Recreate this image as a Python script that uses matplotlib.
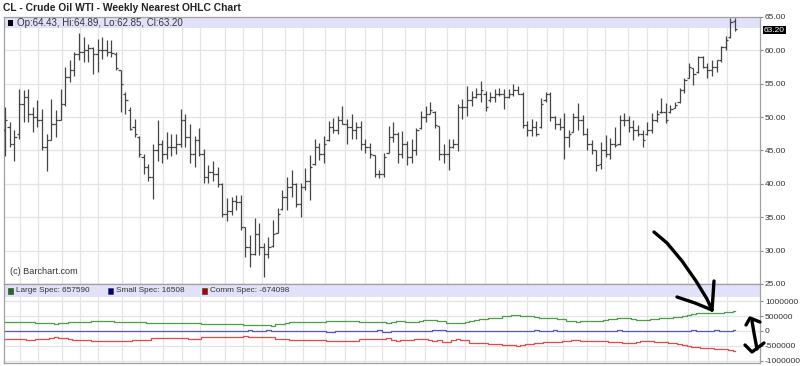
import numpy as np
import matplotlib
matplotlib.use('Agg')
import matplotlib.pyplot as plt
from matplotlib.patches import Rectangle
from matplotlib.lines import Line2D

plt.rcParams['font.family'] = ['Liberation Sans', 'DejaVu Sans']

# weekly OHLC
highs = [51.5, 49.2, 48.0, 54.2, 54.0, 54.2, 51.5, 52.5, 51.2, 47.5,
         52.7, 51.0, 54.2, 57.5, 58.5, 59.7, 62.6, 62.0, 61.0, 60.5,
         61.7, 62.0, 61.5, 61.5, 59.7, 57.0, 53.7, 51.5, 49.7, 47.2,
         44.5, 43.0, 46.0, 49.5, 46.5, 47.7, 47.5, 47.5, 51.2, 50.5,
         48.9, 47.2, 48.4, 45.2, 42.9, 43.4, 42.6, 40.1, 37.9, 38.1,
         38.4, 38.4, 33.6, 32.4, 34.9, 34.1, 31.1, 32.1, 34.6, 36.4,
         39.1, 41.1, 42.1, 40.1, 40.1, 42.4, 44.4, 46.7, 46.1, 47.2,
         49.4, 49.9, 50.2, 51.7, 49.7, 50.4, 49.2, 49.4, 46.7, 46.1,
         44.4, 42.1, 44.6, 48.7, 49.2, 47.7, 47.9, 46.4, 46.7, 48.4,
         50.9, 51.7, 52.2, 50.9, 48.7, 45.9, 46.7, 46.7, 51.9, 52.7,
         54.7, 53.9, 54.4, 55.4, 53.9, 53.7, 54.2, 54.4, 54.2, 54.2,
         54.9, 54.7, 53.7, 49.4, 49.7, 49.4, 52.9, 53.7, 53.7, 50.2,
         49.8, 50.6, 48.1, 50.6, 52.1, 50.3, 48.3, 46.5, 45.0, 46.3,
         47.3, 46.8, 48.5, 50.3, 50.6, 50.1, 49.6, 48.8, 48.1, 49.3,
         50.6, 51.1, 52.8, 52.1, 51.8, 52.3, 54.3, 55.8, 58.1, 57.3,
         59.1, 59.1, 58.1, 58.6, 58.6, 60.6, 62.1, 64.8, 64.89]
lows = [44.2, 45.5, 43.5, 46.7, 49.2, 49.2, 47.7, 48.5, 45.0, 42.0,
        46.5, 47.0, 49.5, 51.7, 55.2, 56.2, 58.5, 58.2, 58.2, 56.5,
        56.7, 58.7, 59.2, 59.0, 57.0, 50.7, 50.5, 48.0, 47.0, 44.0,
        41.5, 40.5, 37.7, 43.5, 43.2, 43.7, 44.2, 44.5, 45.5, 45.5,
        43.1, 42.6, 44.2, 40.1, 40.1, 40.4, 39.6, 35.1, 34.4, 35.4,
        36.1, 33.1, 29.1, 27.6, 29.4, 29.4, 26.1, 28.9, 30.6, 32.6,
        36.1, 36.1, 38.1, 36.6, 35.1, 39.1, 37.6, 42.9, 43.6, 43.1,
        46.4, 47.6, 47.4, 48.9, 45.9, 46.7, 46.7, 45.1, 44.7, 43.9,
        41.1, 40.9, 41.1, 44.6, 46.2, 43.1, 43.9, 42.9, 43.1, 44.4,
        48.2, 49.2, 50.4, 48.4, 43.6, 43.1, 42.1, 45.4, 44.9, 49.7,
        50.2, 51.7, 52.9, 52.2, 50.9, 52.2, 52.2, 53.2, 51.2, 52.9,
        53.2, 53.4, 48.4, 47.2, 47.2, 47.2, 48.4, 52.2, 49.4, 48.2,
        48.1, 43.8, 45.5, 47.8, 48.1, 47.3, 45.0, 44.5, 42.0, 42.3,
        44.0, 43.8, 45.5, 45.8, 48.6, 47.8, 46.6, 47.1, 45.5, 47.3,
        47.6, 49.3, 50.6, 49.1, 50.6, 51.3, 52.1, 53.6, 55.8, 54.8,
        56.6, 57.3, 55.8, 56.1, 56.8, 58.3, 60.1, 61.8, 62.85]
opens = [48.0, 48.5, 46.0, 47.5, 52.0, 53.0, 50.5, 50.0, 49.5, 45.5,
         46.5, 49.0, 49.5, 52.0, 56.0, 57.0, 59.5, 59.8, 60.0, 60.3,
         59.5, 60.0, 60.0, 59.8, 59.5, 57.0, 53.5, 51.0, 48.5, 47.0,
         44.0, 42.5, 41.0, 45.0, 46.0, 44.5, 45.5, 45.5, 46.0, 49.5,
         47.0, 44.5, 46.5, 44.5, 41.0, 41.8, 41.5, 40.0, 35.5, 36.0,
         37.5, 37.3, 33.5, 30.5, 29.5, 32.5, 30.5, 29.5, 30.7, 32.7,
         36.2, 38.0, 39.5, 40.0, 37.0, 39.5, 40.5, 43.0, 45.5, 44.5,
         46.5, 48.5, 48.0, 49.5, 49.0, 48.5, 48.0, 48.5, 46.0, 45.5,
         44.3, 41.5, 41.5, 44.7, 47.0, 47.5, 44.5, 46.0, 44.0, 45.0,
         48.3, 50.0, 50.5, 50.8, 48.7, 44.5, 44.5, 45.5, 46.0, 51.5,
         51.5, 52.5, 53.0, 53.5, 53.5, 52.5, 53.0, 53.5, 53.5, 53.0,
         53.5, 54.0, 53.5, 48.8, 48.0, 48.5, 48.5, 52.5, 53.5, 50.0,
         49.0, 48.5, 47.0, 47.8, 50.0, 49.5, 47.5, 46.0, 45.0, 43.0,
         45.0, 44.5, 46.0, 46.0, 49.5, 49.5, 48.5, 48.0, 47.5, 47.4,
         48.0, 49.5, 50.7, 50.8, 50.7, 51.3, 52.2, 54.0, 55.9, 57.3,
         56.7, 59.0, 57.5, 57.0, 57.5, 58.5, 60.5, 62.0, 64.43]
closes = [49.5, 46.0, 47.0, 52.0, 53.0, 50.5, 50.0, 49.5, 45.5, 46.5,
          49.0, 49.5, 52.0, 56.0, 57.0, 59.5, 59.8, 60.0, 60.3, 59.5,
          60.0, 60.0, 59.8, 59.6, 57.3, 55.0, 52.5, 48.2, 47.5, 44.5,
          42.5, 41.0, 45.0, 46.0, 44.5, 45.5, 45.5, 46.0, 49.5, 47.0,
          44.5, 46.5, 44.5, 41.0, 41.8, 41.5, 40.0, 35.5, 36.0, 37.5,
          37.3, 33.5, 30.5, 29.5, 32.5, 30.5, 29.5, 30.5, 32.5, 35.5,
          38.0, 39.5, 40.0, 37.0, 39.5, 40.5, 42.5, 45.5, 44.5, 46.0,
          48.5, 48.0, 49.5, 49.0, 48.5, 48.0, 48.5, 46.0, 45.5, 44.5,
          41.5, 41.5, 44.0, 47.0, 47.5, 44.5, 46.0, 44.0, 45.0, 48.0,
          50.0, 50.5, 51.0, 48.8, 44.5, 44.5, 45.5, 46.0, 51.5, 51.5,
          52.5, 53.0, 53.5, 54.0, 51.5, 53.0, 53.5, 53.5, 53.0, 53.5,
          54.0, 53.5, 48.8, 48.0, 48.5, 47.5, 52.0, 53.5, 50.0, 49.0,
          48.5, 47.0, 47.5, 50.0, 49.5, 47.5, 46.0, 45.0, 42.8, 45.0,
          44.5, 46.0, 45.8, 49.5, 49.5, 48.5, 48.0, 47.5, 46.5, 48.0,
          49.5, 50.5, 50.8, 49.5, 51.2, 51.8, 54.0, 55.5, 57.5, 56.5,
          59.0, 57.5, 57.0, 57.5, 58.5, 60.5, 61.5, 64.3, 63.20]

# COT net positions (thousand contracts)
large_spec = [289, 289, 289, 289, 289, 300, 300, 278, 278, 278,
              256, 235, 256, 278, 300, 310, 310, 310, 310, 321,
              321, 321, 321, 321, 310, 300, 300, 300, 289, 289,
              289, 278, 256, 256, 256, 256, 256, 256, 256, 256,
              267, 267, 267, 245, 235, 235, 235, 235, 235, 235,
              235, 224, 213, 213, 213, 213, 213, 202, 180, 245,
              245, 267, 289, 300, 300, 300, 300, 310, 310, 310,
              321, 343, 332, 321, 321, 321, 321, 300, 289, 289,
              289, 289, 289, 267, 300, 321, 332, 300, 289, 289,
              332, 353, 353, 353, 321, 321, 278, 267, 267, 267,
              289, 332, 353, 386, 408, 419, 430, 440, 484, 495,
              528, 549, 517, 506, 495, 462, 440, 430, 430, 419,
              397, 386, 343, 321, 310, 321, 332, 332, 332, 343,
              375, 397, 408, 419, 430, 430, 408, 376, 365, 376,
              386, 397, 419, 430, 441, 452, 473, 517, 549, 582,
              593, 604, 615, 615, 604, 615, 626, 637, 657.59]
small_spec = [10, 10, 10, 10, 10, 10, 10, 10, 10, 10,
              10, 10, 10, 10, 10, 10, 10, 10, 10, 10,
              10, 10, 10, 10, 10, 10, 10, 10, 10, 10,
              10, 10, 10, 10, 10, 10, 10, 10, 10, 10,
              10, 10, 10, 10, 10, 10, 10, 10, 10, 10,
              10, 10, 10, 40, 10, 10, 10, 40, 10, 10,
              10, 10, 10, 10, 10, 10, 10, 10, 10, 10,
              -40, -40, 10, 10, 10, 10, 10, 10, 10, 10,
              10, 40, -40, -40, 10, 10, 10, 10, 10, 10,
              10, 10, 10, 40, 40, 40, 10, 10, 10, 10,
              10, 10, 10, 10, 10, 10, 10, 10, 10, 10,
              10, 10, 10, 10, 10, 40, 10, 10, 10, 40,
              10, 10, 10, 10, 10, 10, 10, 10, 10, 10,
              10, 10, 10, 40, 10, 10, 10, 10, 10, 10,
              10, 10, 10, 10, 10, 10, 10, 10, 10, 40,
              10, 10, 10, 10, 40, 10, 10, 10, 16.508]
comm_spec = [-278, -278, -278, -278, -278, -311, -311, -278, -278, -278,
             -245, -202, -245, -245, -278, -300, -300, -300, -300, -332,
             -332, -332, -332, -343, -343, -343, -343, -343, -300, -300,
             -300, -300, -245, -245, -245, -245, -245, -245, -245, -245,
             -256, -256, -256, -212, -212, -212, -212, -212, -212, -212,
             -212, -190, -180, -202, -202, -202, -202, -202, -191, -256,
             -256, -256, -311, -311, -311, -311, -311, -311, -311, -311,
             -343, -343, -332, -332, -332, -332, -332, -278, -278, -278,
             -278, -278, -278, -245, -300, -332, -311, -311, -300, -278,
             -278, -278, -300, -332, -300, -365, -365, -300, -278, -289,
             -311, -387, -387, -398, -398, -420, -420, -441, -452, -463,
             -484, -517, -473, -441, -430, -408, -387, -376, -365, -365,
             -354, -343, -332, -311, -311, -321, -332, -332, -332, -332,
             -343, -354, -365, -376, -387, -387, -387, -365, -343, -343,
             -343, -354, -365, -376, -387, -398, -430, -463, -495, -528,
             -549, -560, -582, -582, -593, -604, -615, -637, -674.098]

price_ticks = [25, 30, 35, 40, 45, 50, 55, 60, 65]
cot_ticks = [-1000000, -500000, 0, 500000, 1000000]
month_lines = [3.25, 7.14, 12.34, 16.23, 20.13, 25.32, 29.22, 34.2, 38.31, 42.21,
               47.62, 51.52, 55.63, 60.61, 64.5, 69.26, 73.59, 77.92, 81.6, 86.58,
               90.91, 95.67, 99.57, 103.9, 108.66, 112.99, 117.32, 120.78, 125.97,
               129.87, 134.85, 138.96, 143.29, 147.84, 152.16, 156.28]

W, H = 800, 366
fig = plt.figure(figsize=(W / 100, H / 100), dpi=100)

def fx(px):
    return px / W

def fy(py):
    return 1 - py / H

GRID = '#e4e4e4'
BAND = '#e1e1fa'
SPINE = '#a0a0a0'
BAR = '#454545'

ax = fig.add_axes([fx(4), fy(284), fx(760) - fx(4), fy(17) - fy(284)])
ax2 = fig.add_axes([fx(4), fy(363), fx(760) - fx(4), fy(284) - fy(363)])

n = len(highs)
idx = np.arange(n)
o = np.clip(opens, lows, highs)
c = np.clip(closes, lows, highs)

ax.vlines(idx, lows, highs, color=BAR, lw=0.9, zorder=3)
ax.hlines(o, idx - 0.5, idx, color=BAR, lw=0.9, zorder=3)
ax.hlines(c, idx, idx + 0.5, color=BAR, lw=0.9, zorder=3)

ax2.plot(idx, np.array(large_spec) * 1000, color='#49a049', lw=0.9, drawstyle='steps-mid', zorder=3)
ax2.plot(idx, np.array(small_spec) * 1000, color='#5555cc', lw=0.9, drawstyle='steps-mid', zorder=3)
ax2.plot(idx, np.array(comm_spec) * 1000, color='#e84848', lw=0.9, drawstyle='steps-mid', zorder=3)

for a in (ax, ax2):
    a.set_xlim(-0.25, 163.4)
    a.set_xticks([])
    for m in month_lines:
        a.axvline(m, color=GRID, lw=0.9, zorder=0)
    for s in a.spines.values():
        s.set_color(SPINE)
        s.set_linewidth(0.9)
    a.yaxis.tick_right()
    a.tick_params(axis='y', length=2, width=0.8, color='#888888', labelsize=6.0,
                  labelcolor='#333333', pad=1.5)

ax.set_ylim(25, 65)
ax.set_yticks(price_ticks)
ax.set_yticklabels(['%.2f' % v for v in price_ticks])
for v in price_ticks:
    ax.axhline(v, color=GRID, lw=0.9, zorder=0)

ax2.set_ylim(-1.07e6, 1.57e6)
ax2.set_yticks(cot_ticks)
ax2.set_yticklabels([str(v) for v in cot_ticks])
for v in cot_ticks:
    ax2.axhline(v, color=GRID, lw=0.9, zorder=0)

# lavender info bands
ax.add_patch(Rectangle((0, 1 - 11 / 267), 1, 11 / 267, transform=ax.transAxes,
                       facecolor=BAND, edgecolor='none', zorder=1))
ax2.add_patch(Rectangle((0, 1 - 13 / 79), 1, 12 / 79, transform=ax2.transAxes,
                        facecolor=BAND, edgecolor='none', zorder=1))

fig.text(fx(3), fy(8), 'CL - Crude Oil WTI - Weekly Nearest OHLC Chart',
         fontsize=7.4, fontweight='bold', va='center', ha='left', color='#222222')

fig.patches.append(Rectangle((fx(8), fy(26)), fx(5), fy(20) - fy(26),
                             transform=fig.transFigure, facecolor='black', edgecolor='none'))
fig.text(fx(17), fy(22.5), 'Op:64.43, Hi:64.89, Lo:62.85, Cl:63.20',
         fontsize=7.0, va='center', ha='left', color='#333333')

legend_items = [('Large Spec: 657590', '#1e6e1e', 8),
                ('Small Spec: 16508', '#000080', 108),
                ('Comm Spec: -674098', '#b00000', 202)]
for label, col, px in legend_items:
    fig.patches.append(Rectangle((fx(px), fy(294)), fx(5), fy(288) - fy(294),
                                 transform=fig.transFigure, facecolor=col,
                                 edgecolor='#333333', lw=0.4))
    fig.text(fx(px + 8.5), fy(291), label, fontsize=5.9, va='center', ha='left', color='#333333')

fig.text(fx(10), fy(272), '(c) Barchart.com', fontsize=6.6, va='center', ha='left', color='#333333')

# last price marker
fig.text(fx(764), fy(30), '63.20', fontsize=6.0, va='center', ha='left', color='white',
         bbox=dict(boxstyle='square,pad=0.1', facecolor='black', edgecolor='none'))

# hand-drawn arrows on top
ink = dict(color='black', lw=2.4, solid_capstyle='round', solid_joinstyle='round')
strokes = [
    [(654, 232), (667, 243), (682, 261), (696, 281), (707, 299), (712, 310)],
    [(677, 297), (695, 303), (712, 310)],
    [(714, 281), (713, 296), (712, 310)],
    [(752, 321), (754, 333), (757, 349)],
    [(746, 325), (750, 318), (760, 322)],
    [(745, 345), (752, 352), (764, 343)],
]
for s in strokes:
    xs = [fx(p[0]) for p in s]
    ys = [fy(p[1]) for p in s]
    fig.add_artist(Line2D(xs, ys, transform=fig.transFigure, **ink))

fig.savefig('out.png', dpi=100)
